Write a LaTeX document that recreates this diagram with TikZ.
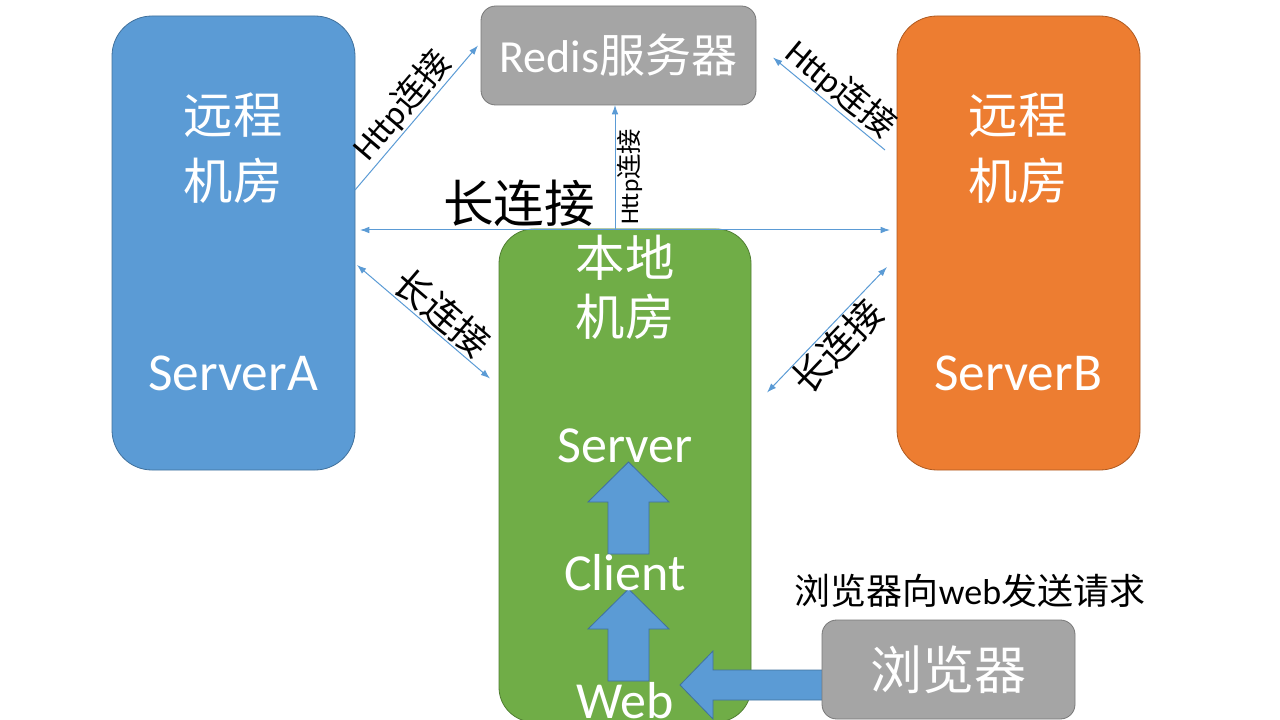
\documentclass[tikz,border=0pt]{standalone}
\usepackage{fontspec}
\setmainfont{Carlito}
\newfontfamily\cjk{Noto Sans CJK SC}
\usepackage{tikz}
\usetikzlibrary{arrows.meta}
\definecolor{roomblue}{HTML}{5B9BD5}
\definecolor{blueedge}{HTML}{41719C}
\definecolor{roomorange}{HTML}{ED7D31}
\definecolor{orangeedge}{HTML}{AE5A21}
\definecolor{roomgreen}{HTML}{70AD47}
\definecolor{greenedge}{HTML}{507E32}
\definecolor{roomgray}{HTML}{A5A5A5}
\definecolor{grayedge}{HTML}{787878}

\begin{document}
\begin{tikzpicture}[x=0.75pt,y=-0.75pt,
  room/.style={rounded corners=#1, inner sep=0pt, outer sep=0pt, line width=0.6pt},
  room/.default=30pt,
  whitetext/.style={text=white, inner sep=0pt},
  link/.style={draw=roomblue, line width=0.75pt, -{Latex[length=7pt,width=5pt]}},
  twinlink/.style={link, {Latex[length=7pt,width=5pt]}-{Latex[length=7pt,width=5pt]}},
  linklabel/.style={sloped, inner sep=1pt},
  bigarrow/.style={fill=roomblue, draw=blueedge, line width=0.6pt}]
  \path[use as bounding box, clip] (0,0) rectangle (1280,720);

  % Les trois salles
  \node[room, fill=roomblue, draw=blueedge,
        minimum width=182.25pt, minimum height=340.5pt] (srvA) at (233.5,243) {};
  \node[room, fill=roomorange, draw=orangeedge,
        minimum width=182.25pt, minimum height=340.5pt] (srvB) at (1018.5,243) {};
  \node[room=26pt, fill=roomgreen, draw=greenedge,
        minimum width=189pt, minimum height=369.75pt] (local) at (625,475.5) {};

  % Redis en haut
  \node[room=11pt, fill=roomgray, draw=grayedge, text=white,
        minimum width=206.25pt, minimum height=74.25pt,
        font=\fontsize{34.5}{40}\selectfont] (redis) at (618.5,55.5) {Redis{\cjk 服务器}};

  % Flèches pleines dans la salle locale
  \draw[bigarrow] (608,554) -- (608,502) -- (588,502) -- (628.5,462)
    -- (669,502) -- (649,502) -- (649,554) -- cycle;
  \draw[bigarrow] (608,681) -- (608,629) -- (588,629) -- (628.5,589)
    -- (669,629) -- (649,629) -- (649,681) -- cycle;
  \draw[bigarrow] (830,670) -- (713,670) -- (713,651) -- (680,685)
    -- (713,719) -- (713,700) -- (830,700) -- cycle;

  % Navigateur
  \node[room=11pt, fill=roomgray, draw=grayedge, text=white,
        minimum width=189.75pt, minimum height=74.25pt,
        font=\cjk\fontsize{39}{46}\selectfont] (browser) at (948.5,669.5) {浏览器};
  \node[font=\cjk\fontsize{27}{32}\selectfont, inner sep=0pt] (request) at (970,591)
    {浏览器向{\normalfont web}发送请求};

  % Textes des salles
  \node[whitetext, align=center, font=\cjk\fontsize{37}{49.5}\selectfont]
    (nameA) at (233,148) {远程\\机房};
  \node[whitetext, align=center, font=\cjk\fontsize{37}{49.5}\selectfont]
    (nameB) at (1018,148) {远程\\机房};
  \node[whitetext, align=center, font=\cjk\fontsize{37}{44}\selectfont]
    (nameL) at (625,287) {本地\\机房};
  \node[whitetext, anchor=base, font=\fontsize{40}{48}\selectfont] (tagA) at (233,390) {ServerA};
  \node[whitetext, anchor=base, font=\fontsize{40}{48}\selectfont] (tagB) at (1018,390) {ServerB};
  \node[whitetext, anchor=base, font=\fontsize{39}{46}\selectfont] (server) at (625,462) {Server};
  \node[whitetext, anchor=base, font=\fontsize{39}{46}\selectfont] (client) at (625,590) {Client};
  \node[whitetext, anchor=base, font=\fontsize{39}{46}\selectfont] (web) at (625,718) {Web};

  % Liaisons fines
  \draw[link] ([shift={(0,-53)}]srvA.east)
    -- node[linklabel, above, pos=0.5, font=\fontsize{26}{30}\selectfont] (httpA) {Http{\cjk 连接}}
    ([shift={(-3,-10)}]redis.west);
  \draw[link, {Latex[length=7pt,width=5pt]}-] ([shift={(17,2)}]redis.east)
    -- node[linklabel, above, pos=0.5, font=\fontsize{26}{30}\selectfont] (httpB) {Http{\cjk 连接}}
    ([shift={(-12,-93)}]srvB.west);
  \draw[link] ([shift={(-10,0)}]local.north)
    -- node[linklabel, below, pos=0.42, font=\fontsize{19}{22}\selectfont] (httpL) {Http{\cjk 连接}}
    ([shift={(-3.5,0)}]redis.south);
  \draw[twinlink] ([shift={(5,-13)}]srvA.east)
    -- node[above, pos=0.3, inner sep=2pt, font=\cjk\fontsize{38}{44}\selectfont] (longAB) {长连接}
    ([shift={(-7,-13)}]srvB.west);
  \draw[twinlink] ([shift={(2,22)}]srvA.east)
    -- node[linklabel, above, pos=0.55, font=\cjk\fontsize{28}{32}\selectfont] (longA) {长连接}
    ([shift={(-9,-97)}]local.west);
  \draw[twinlink] ([shift={(16,-83)}]local.east)
    -- node[linklabel, below, pos=0.47, font=\cjk\fontsize{28}{32}\selectfont] (longB) {长连接}
    ([shift={(-10,24)}]srvB.west);
\end{tikzpicture}
\end{document}
